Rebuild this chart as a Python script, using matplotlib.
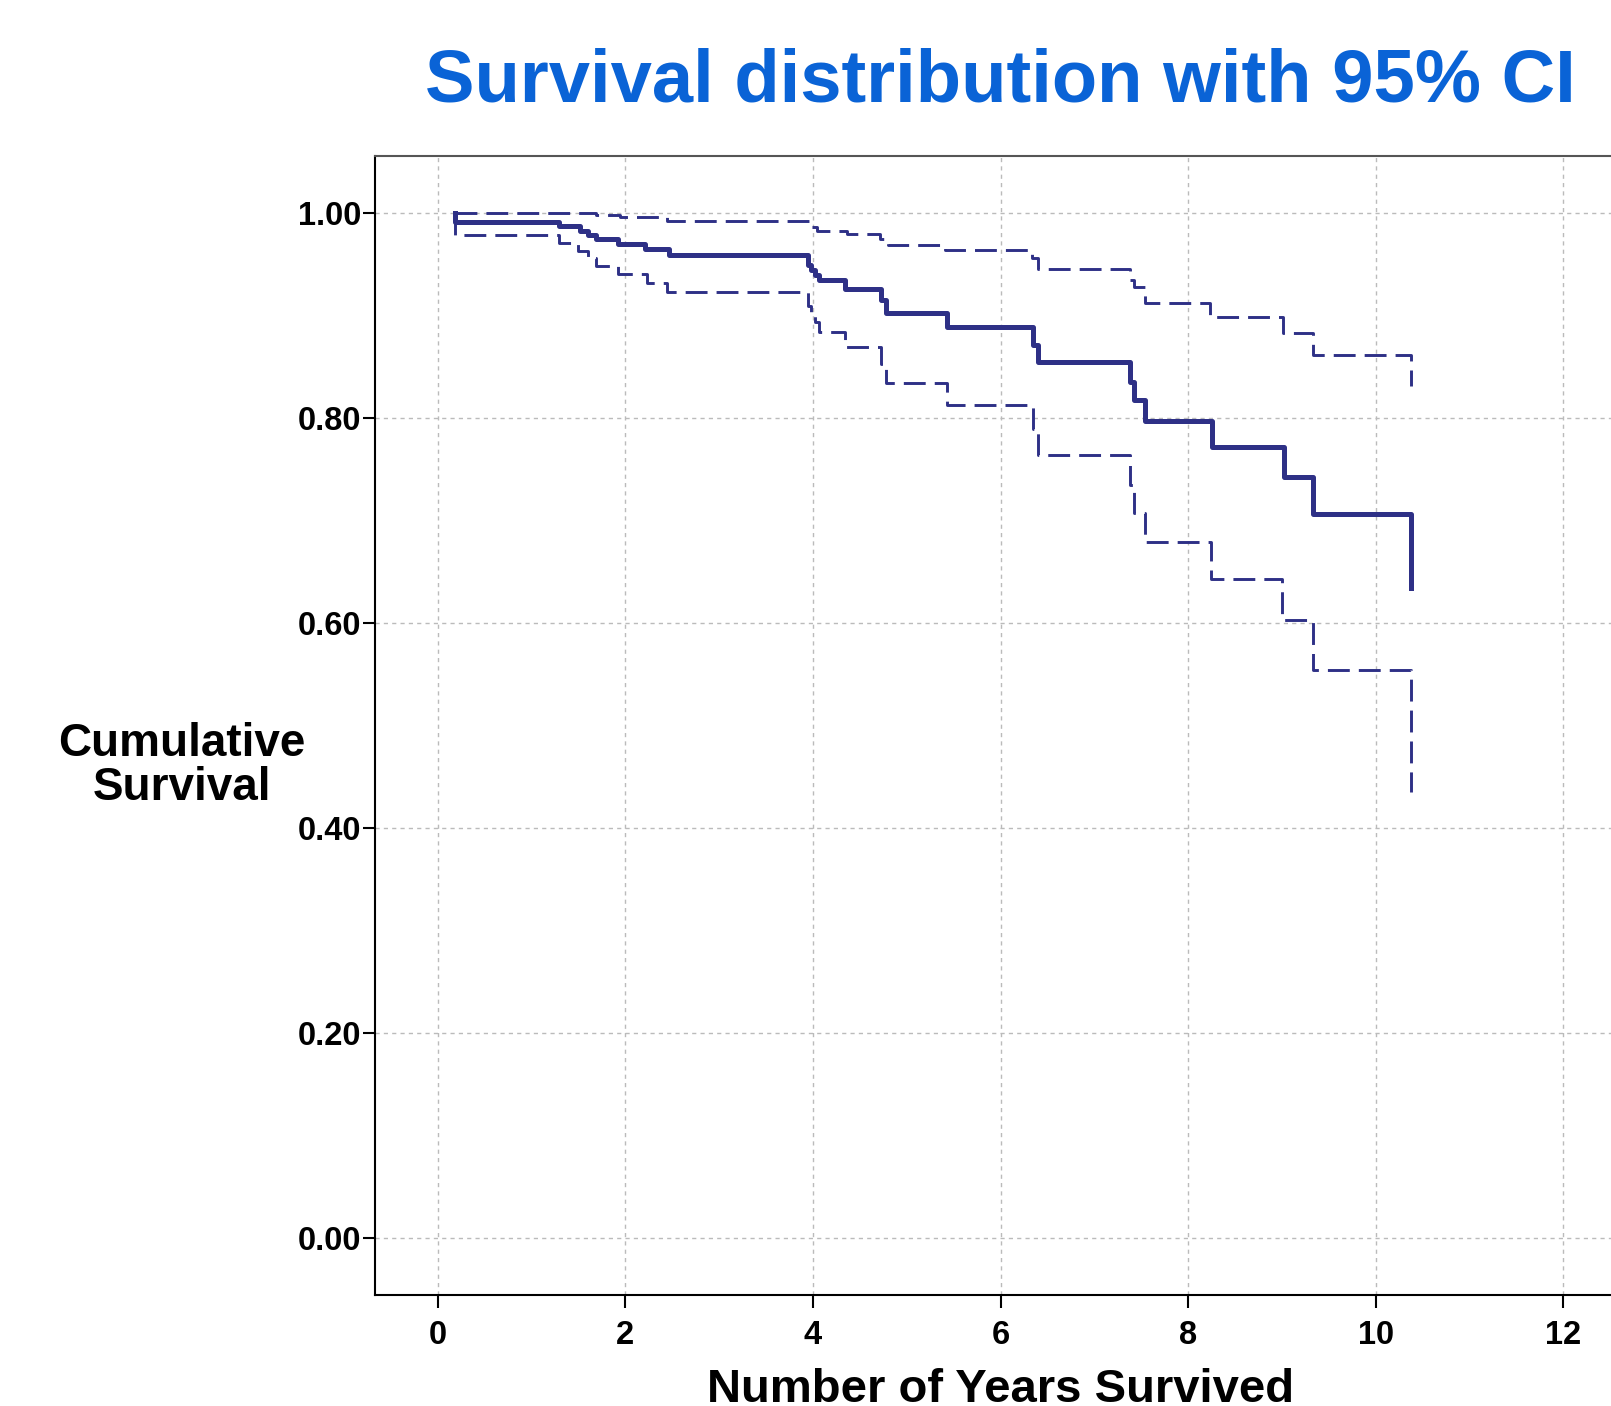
import matplotlib
matplotlib.use("Agg")
import matplotlib.pyplot as plt

plt.rcParams['font.family'] = ['Liberation Sans', 'DejaVu Sans']

# Kaplan-Meier estimate (years, cumulative survival)
main_t = [0.18, 0.18, 1.29, 1.52, 1.60, 1.69, 1.92, 2.21, 2.46, 3.95, 3.98, 4.02, 4.06,
          4.34, 4.73, 4.78, 5.43, 6.35, 6.40, 7.38, 7.42, 7.54, 8.25, 9.02, 9.33, 10.38]
main_s = [1.0, 0.992, 0.988, 0.983, 0.979, 0.975, 0.970, 0.965, 0.959, 0.950, 0.945, 0.940, 0.935,
          0.926, 0.915, 0.903, 0.889, 0.872, 0.855, 0.835, 0.818, 0.797, 0.772, 0.743, 0.707, 0.634]

# upper 95% CI
upper_t = [0.18, 1.69, 1.94, 2.44, 3.97, 4.04, 4.36, 4.72, 4.80, 5.41, 6.34, 6.40,
           7.38, 7.42, 7.54, 8.23, 9.01, 9.33, 10.38]
upper_s = [1.0, 0.998, 0.996, 0.993, 0.987, 0.983, 0.980, 0.975, 0.969, 0.964, 0.956, 0.946,
           0.935, 0.928, 0.913, 0.899, 0.883, 0.862, 0.832]

# lower 95% CI
lower_t = [0.18, 0.18, 1.29, 1.50, 1.60, 1.69, 1.92, 2.23, 2.44, 3.95, 3.98, 4.02, 4.06,
           4.34, 4.73, 4.78, 5.43, 6.35, 6.40, 7.38, 7.42, 7.54, 8.24, 9.00, 9.33, 10.38]
lower_s = [1.0, 0.979, 0.971, 0.963, 0.956, 0.949, 0.941, 0.932, 0.923, 0.910, 0.902, 0.894, 0.884,
           0.870, 0.853, 0.834, 0.813, 0.790, 0.764, 0.735, 0.708, 0.679, 0.643, 0.603, 0.554, 0.435]

x_ticks = [0, 2, 4, 6, 8, 10, 12]
y_ticks = [0.0, 0.2, 0.4, 0.6, 0.8, 1.0]
y_labels = ["0.00", "0.20", "0.40", "0.60", "0.80", "1.00"]

W, H = 1611, 1406
fig = plt.figure(figsize=(W / 100, H / 100), dpi=100)
# axes runs past the right edge of the figure, like the cropped original
ax = fig.add_axes([375 / W, 1 - 1294.5 / H, (1626 - 375) / W, (1294.5 - 156) / H])

line_col = '#2e3086'
ax.step(main_t, main_s, where='post', color=line_col, lw=3.6)
ax.step(upper_t, upper_s, where='post', color=line_col, lw=2.1, dashes=(7.5, 3.1))
ax.step(lower_t, lower_s, where='post', color=line_col, lw=2.1, dashes=(7.5, 3.1))

ax.set_xlim(-0.67, 12.67)
ax.set_ylim(-0.055, 1.056)
ax.set_xticks(x_ticks)
ax.set_yticks(y_ticks)
ax.set_yticklabels(y_labels)

ax.set_axisbelow(True)
ax.grid(True, color='#bbbbbb', linestyle=(0, (3, 3)), lw=1.0)

for lab in ax.get_xticklabels() + ax.get_yticklabels():
    lab.set_fontweight('bold')
ax.tick_params(axis='both', direction='out', length=9, width=1.5, labelsize=23.5)
ax.tick_params(axis='y', pad=1)
ax.tick_params(axis='x', pad=9)

ax.spines['top'].set_color('#555555')
ax.spines['top'].set_linewidth(1.5)
ax.spines['left'].set_linewidth(1.5)
ax.spines['bottom'].set_linewidth(1.5)
ax.spines['right'].set_visible(False)

ax.set_xlabel('Number of Years Survived', fontsize=34, fontweight='bold')
ax.xaxis.label.set_va('baseline')
ax.xaxis.set_label_coords(0.5, (1294.5 - 1402) / (1294.5 - 156))

fig.text(182 / W, 1 - 766 / H, 'Cumulative\nSurvival', fontsize=33, fontweight='bold',
         ha='center', va='center', linespacing=1.0)

fig.text(1000 / W, 1 - 101 / H, 'Survival distribution with 95% CI', fontsize=53.5,
         fontweight='bold', color='#0a63d6', ha='center', va='baseline')

fig.savefig('out.png', dpi=100)
